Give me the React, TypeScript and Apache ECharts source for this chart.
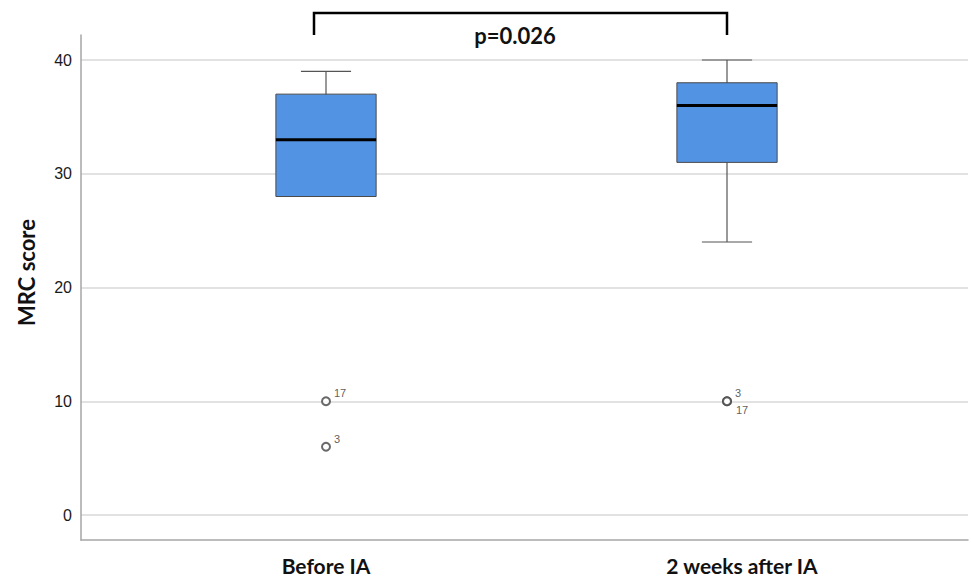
import React, { useEffect, useRef } from "react";
import * as echarts from "echarts";

const categories = ["Before IA", "2 weeks after IA"];
// [categoryIndex, lowerWhisker, Q1, median, Q3, upperWhisker]
const boxValues = [
  [0, 28, 28, 33, 37, 39],
  [1, 24, 31, 36, 38, 40],
];
// [categoryIndex, value, case label, label placement]
const outliers: [number, number, string, string][] = [
  [0, 10, "17", "up"],
  [0, 6, "3", "up"],
  [1, 10, "3", "up"],
  [1, 10, "17", "down"],
];
const yTicks = { min: 0, max: 40, interval: 10 };
const pLabel = "p=0.026";
const yName = "MRC score";

export default function App() {
  const ref = useRef<HTMLDivElement>(null);
  useEffect(() => {
    if (!ref.current) return;
    const chart = echarts.init(ref.current, null, { renderer: "svg" });
    const axisGray = "#a6a6a6";
    const catFont = { color: "#111", fontFamily: "Lato", fontWeight: "bold", fontSize: 21 };
    const option: any = {
      animation: false,
      backgroundColor: "#ffffff",
      grid: [
        { left: 81, right: 3, top: 35, bottom: 38 },
        { left: 81, right: 3, top: 60, bottom: 63 },
        { left: 125.5, width: 802, top: 60, bottom: 63 },
      ],
      xAxis: [
        {
          gridIndex: 0, type: "value", min: 0, max: 1,
          axisLine: { show: true, lineStyle: { color: axisGray, width: 1.5 } },
          axisTick: { show: false }, axisLabel: { show: false }, splitLine: { show: false },
        },
        { gridIndex: 1, type: "value", min: 0, max: 1, show: false },
        {
          gridIndex: 2, type: "category", data: categories,
          axisLine: { show: false }, axisTick: { show: false }, splitLine: { show: false },
          axisLabel: {
            margin: 40,
            ...catFont,
            formatter: (v: string, i: number) => (i === 1 ? `{r|${v}}` : `{l|${v}}`),
            rich: {
              l: { ...catFont },
              r: { ...catFont, padding: [0, 0, 0, 30] },
            },
          },
        },
      ],
      yAxis: [
        {
          gridIndex: 0, type: "value", min: 0, max: 1,
          axisLine: { show: true, lineStyle: { color: axisGray, width: 1.5 } },
          axisTick: { show: false }, axisLabel: { show: false }, splitLine: { show: false },
        },
        {
          gridIndex: 1, type: "value", min: yTicks.min, max: yTicks.max, interval: yTicks.interval,
          axisLine: { show: false }, axisTick: { show: false },
          splitLine: { show: true, lineStyle: { color: "#d9d9d9", width: 1.5 } },
          axisLabel: { margin: 9, color: "#1a1a1a", fontFamily: "Liberation Sans", fontSize: 16 },
          name: yName, nameLocation: "middle", nameGap: 44, nameRotate: 90,
          nameTextStyle: {
            color: "#111", fontFamily: "Lato", fontWeight: "bold", fontSize: 22,
            padding: [0, 0, 0, 30],
          },
        },
        { gridIndex: 2, type: "value", min: yTicks.min, max: yTicks.max, show: false },
      ],
      series: [
        {
          type: "custom",
          xAxisIndex: 2, yAxisIndex: 2,
          data: boxValues,
          encode: { x: 0, y: [1, 2, 3, 4, 5] },
          renderItem: (params: any, api: any) => {
            const x = api.value(0);
            const lo = api.coord([x, api.value(1)]);
            const q1 = api.coord([x, api.value(2)]);
            const med = api.coord([x, api.value(3)]);
            const q3 = api.coord([x, api.value(4)]);
            const hi = api.coord([x, api.value(5)]);
            const band = api.size([1, 0])[0];
            const bw = band * 0.25;
            const cw = band * 0.125;
            const cx = lo[0];
            const wStyle = { stroke: "#555555", lineWidth: 1.2 };
            return {
              type: "group",
              children: [
                { type: "line", shape: { x1: cx, y1: lo[1], x2: cx, y2: hi[1] }, style: wStyle },
                { type: "line", shape: { x1: cx - cw / 2, y1: lo[1], x2: cx + cw / 2, y2: lo[1] }, style: wStyle },
                { type: "line", shape: { x1: cx - cw / 2, y1: hi[1], x2: cx + cw / 2, y2: hi[1] }, style: wStyle },
                {
                  type: "rect",
                  shape: { x: cx - bw / 2, y: q3[1], width: bw, height: q1[1] - q3[1] },
                  style: { fill: "#5393e3", stroke: "#4a4a4a", lineWidth: 1 },
                },
                {
                  type: "line",
                  shape: { x1: cx - bw / 2, y1: med[1], x2: cx + bw / 2, y2: med[1] },
                  style: { stroke: "#000000", lineWidth: 3 },
                },
              ],
            };
          },
          z: 3,
        },
        {
          type: "scatter",
          xAxisIndex: 2, yAxisIndex: 2,
          symbol: "emptyCircle",
          symbolSize: 8,
          itemStyle: { color: "#444444", borderColor: "#444444", borderWidth: 1.5 },
          data: outliers.map((o) => ({
            value: [o[0], o[1]],
            label: {
              show: true,
              formatter: o[2],
              position: "right",
              offset: o[3] === "up" ? [-2, -8] : [-1, 9],
              color: "#333",
              fontFamily: "Liberation Sans",
              fontSize: 11,
            },
          })),
          z: 4,
        },
      ],
      graphic: [
        {
          type: "polyline",
          shape: { points: [[314, 35], [314, 13], [727, 13], [727, 35]] },
          style: { stroke: "#000", lineWidth: 2.5, fill: null },
        },
        {
          type: "text",
          x: 515, y: 35,
          style: {
            text: pLabel, fill: "#111", fontFamily: "Lato", fontWeight: "bold", fontSize: 22,
            textAlign: "center", textVerticalAlign: "middle",
          },
        },
      ],
    };
    chart.setOption(option);
    return () => chart.dispose();
  }, []);
  return (
    <div
      ref={ref}
      style={{ position: "fixed", left: 0, top: 0, width: 971, height: 578, background: "#fff" }}
    />
  );
}
